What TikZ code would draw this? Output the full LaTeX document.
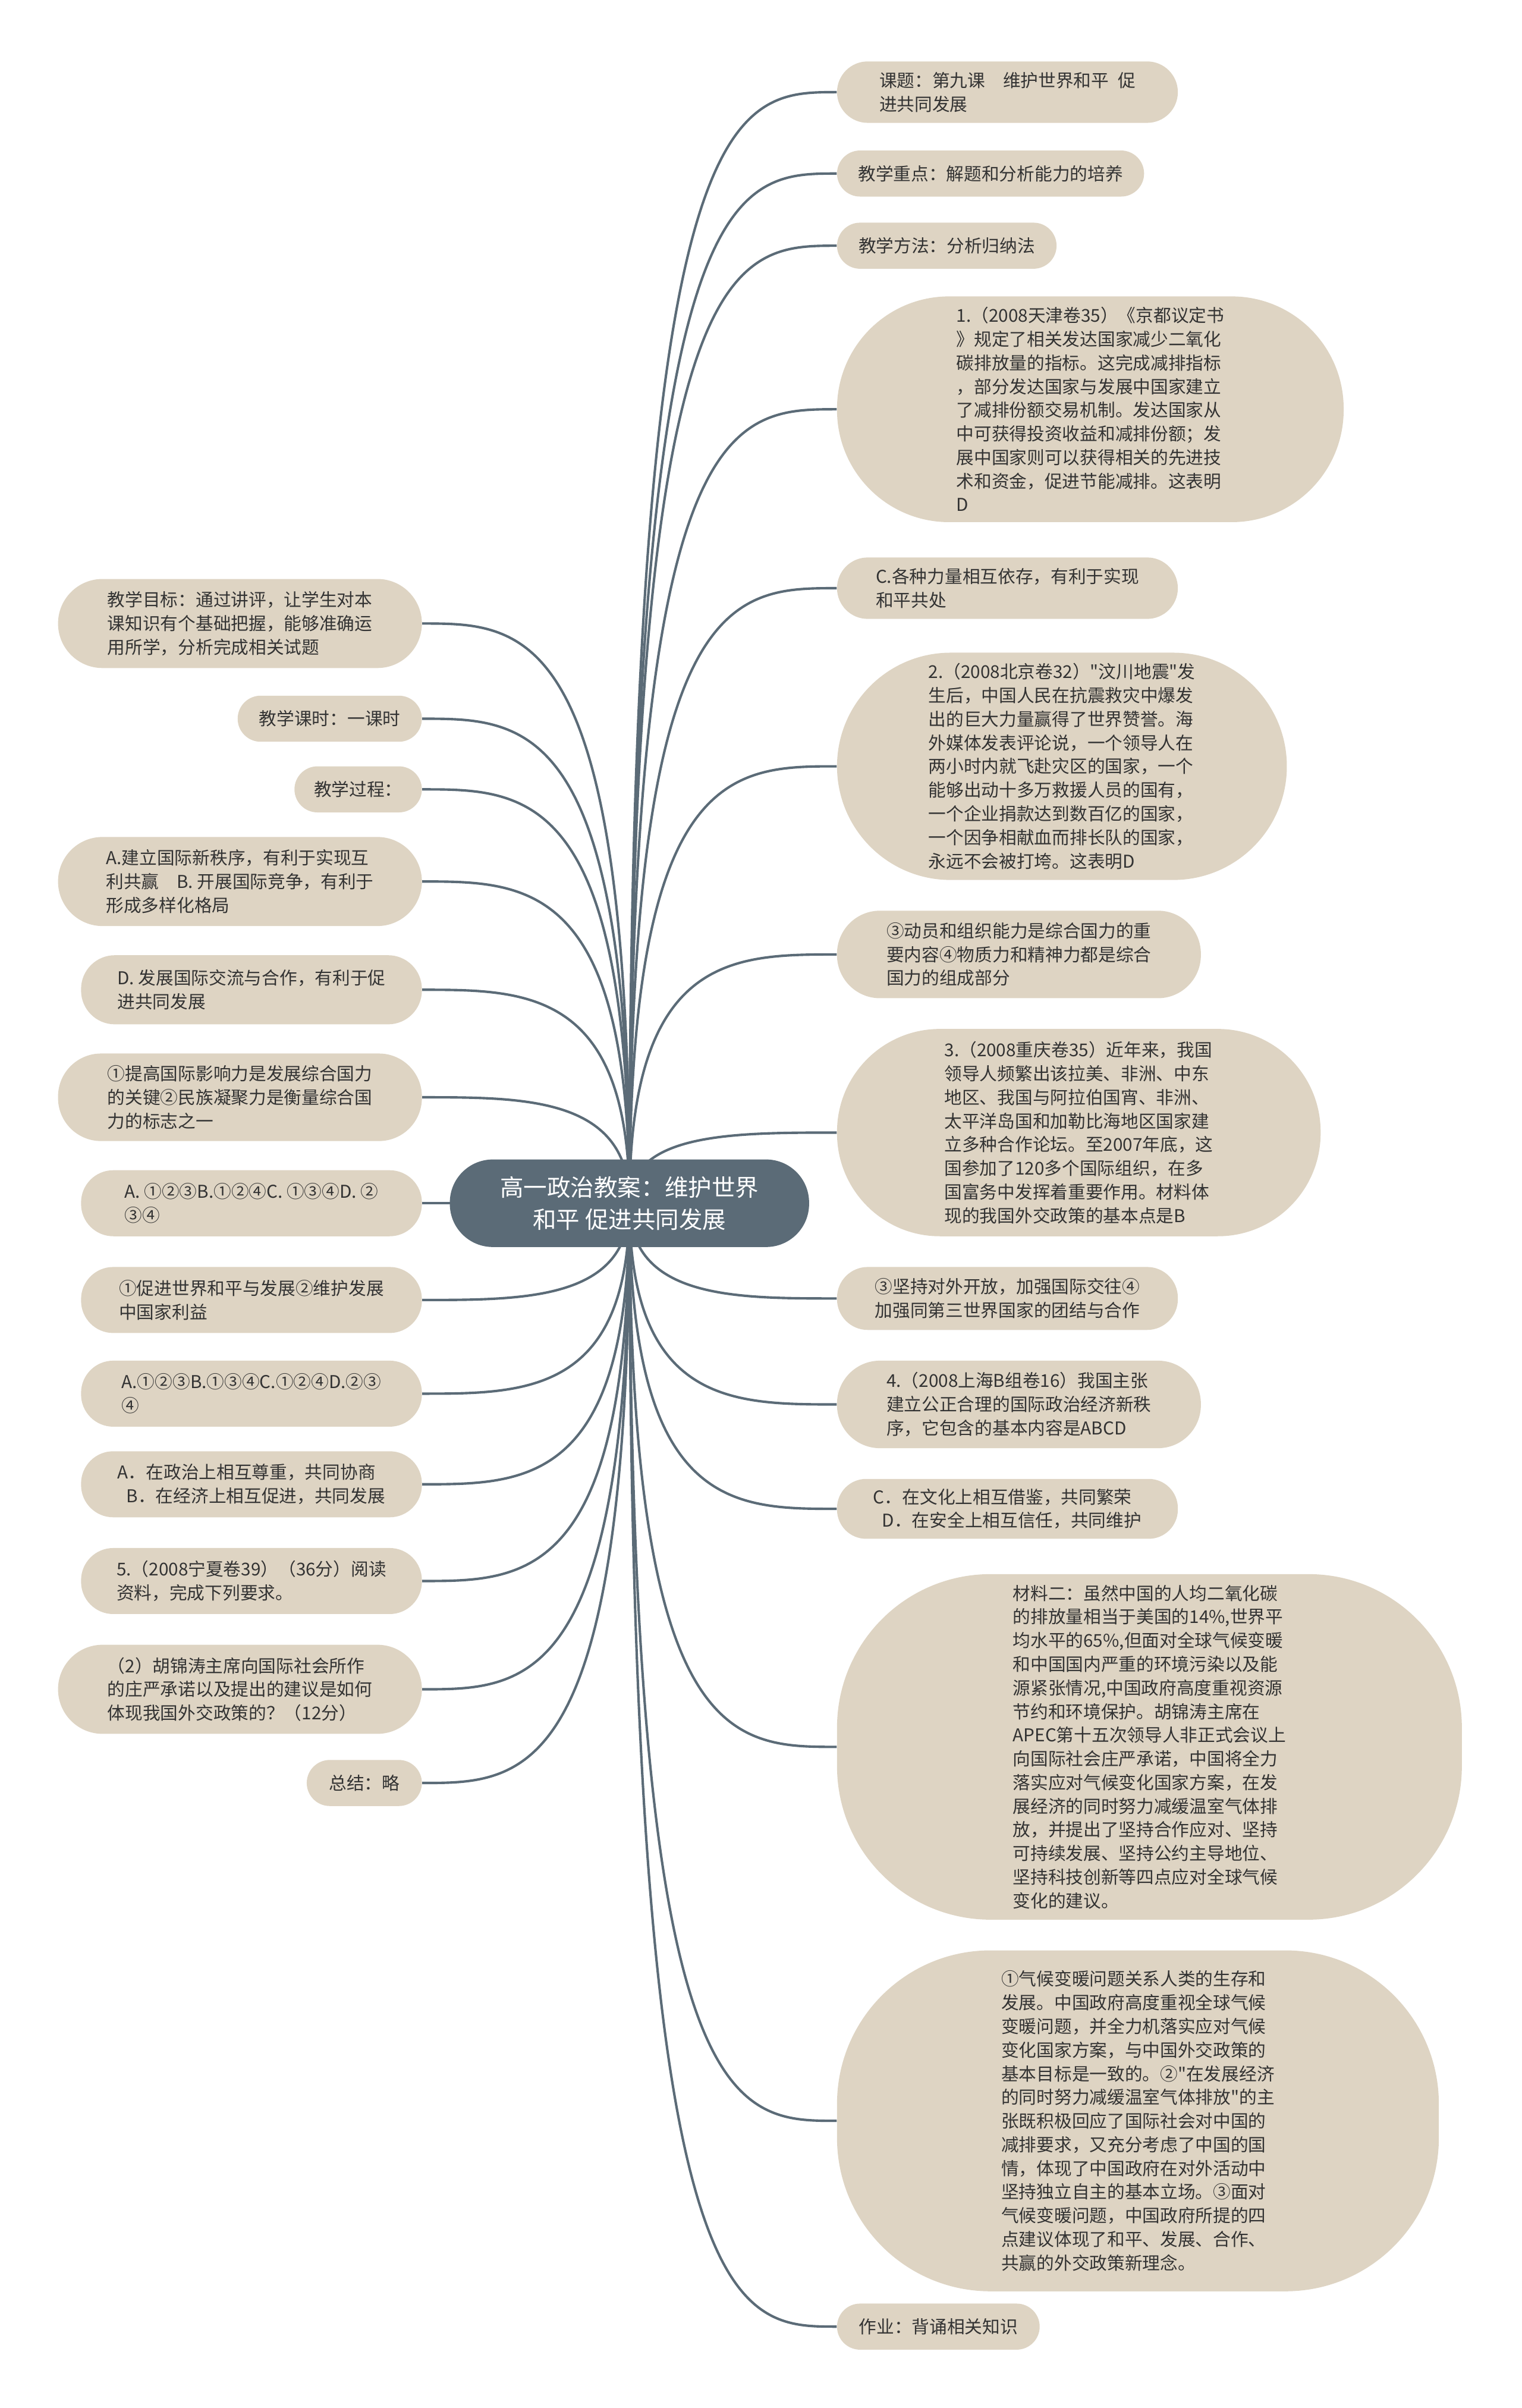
\documentclass[tikz,border=0pt]{standalone}
\usepackage{fontspec}
\newfontfamily\cjk{Noto Sans CJK SC}
\usepackage{xcolor}
\usepackage{tikz}
\usetikzlibrary{calc, backgrounds}

\definecolor{boxfill}{HTML}{DED4C3}
\definecolor{rootfill}{HTML}{5B6B77}
\definecolor{textgray}{HTML}{333333}

\begin{document}
\begin{tikzpicture}[x=1pt, y=-1pt,
    box/.style={fill=boxfill, text=textgray, align=left, inner sep=0pt,
      font=\cjk\fontsize{11.5}{15.4}\selectfont},
    rootbox/.style={fill=rootfill, text=white, align=center, inner sep=0pt,
      font=\cjk\fontsize{15.3}{21}\selectfont},
    link/.style={draw=rootfill, line width=1.6pt,
      to path={.. controls (\tikztostart |- \tikztotarget) and ($(\tikztostart |- \tikztotarget)!0.5!(\tikztotarget)$) .. (\tikztotarget)}}]

  \useasboundingbox (0,0) rectangle (991,1568);

  % centre
  \node[rootbox, minimum width=234pt, minimum height=57pt, rounded corners=28pt] (root) at (410,783.5) {高一政治教案：维护世界\\和平 促进共同发展};

  % right side
  \node[box, minimum width=222pt, minimum height=40pt, rounded corners=20pt, anchor=west] (keti) at (545,60) {课题：第九课\quad 维护世界和平\enspace 促\\进共同发展};
  \node[box, minimum width=200pt, minimum height=30pt, rounded corners=15pt, anchor=west] (zhongdian) at (545,113) {教学重点：解题和分析能力的培养};
  \node[box, minimum width=143pt, minimum height=30pt, rounded corners=15pt, anchor=west] (fangfa) at (545,160) {教学方法：分析归纳法};
  \node[box, minimum width=330pt, minimum height=147pt, rounded corners=73pt, anchor=west] (q1) at (545,266.5) {1.（2008天津卷35）《京都议定书\\》规定了相关发达国家减少二氧化\\碳排放量的指标。这完成减排指标\\，部分发达国家与发展中国家建立\\了减排份额交易机制。发达国家从\\中可获得投资收益和减排份额；发\\展中国家则可以获得相关的先进技\\术和资金，促进节能减排。这表明\\D};
  \node[box, minimum width=222pt, minimum height=40pt, rounded corners=20pt, anchor=west] (optC) at (545,383) {C.各种力量相互依存，有利于实现\\和平共处};
  \node[box, minimum width=293pt, minimum height=148pt, rounded corners=74pt, anchor=west] (q2) at (545,499) {2.（2008北京卷32）"汶川地震"发\\生后，中国人民在抗震救灾中爆发\\出的巨大力量赢得了世界赞誉。海\\外媒体发表评论说，一个领导人在\\两小时内就飞赴灾区的国家，一个\\能够出动十多万救援人员的国有，\\一个企业捐款达到数百亿的国家，\\一个因争相献血而排长队的国家，\\永远不会被打垮。这表明D};
  \node[box, minimum width=237pt, minimum height=57pt, rounded corners=28pt, anchor=west] (ans2) at (545,621.5) {③动员和组织能力是综合国力的重\\要内容④物质力和精神力都是综合\\国力的组成部分};
  \node[box, minimum width=315pt, minimum height=135pt, rounded corners=67pt, anchor=west] (q3) at (545,737.5) {3.（2008重庆卷35）近年来，我国\\领导人频繁出该拉美、非洲、中东\\地区、我国与阿拉伯国宵、非洲、\\太平洋岛国和加勒比海地区国家建\\立多种合作论坛。至2007年底，这\\国参加了120多个国际组织，在多\\国富务中发挥着重要作用。材料体\\现的我国外交政策的基本点是B};
  \node[box, minimum width=222pt, minimum height=41pt, rounded corners=20pt, anchor=west] (ans3) at (545,845.5) {③坚持对外开放，加强国际交往④\\加强同第三世界国家的团结与合作};
  \node[box, minimum width=237pt, minimum height=57pt, rounded corners=28pt, anchor=west] (q4) at (545,914.5) {4.（2008上海B组卷16）我国主张\\建立公正合理的国际政治经济新秩\\序，它包含的基本内容是ABCD};
  \node[box, minimum width=222pt, minimum height=39pt, rounded corners=19pt, anchor=west] (optCD) at (545,982.5) {C．在文化上相互借鉴，共同繁荣\\\enspace D．在安全上相互信任，共同维护};
  \node[box, minimum width=407pt, minimum height=225pt, rounded corners=100pt, anchor=west] (cailiao) at (545,1137.5) {材料二：虽然中国的人均二氧化碳\\的排放量相当于美国的14\%,世界平\\均水平的65\%,但面对全球气候变暖\\和中国国内严重的环境污染以及能\\源紧张情况,中国政府高度重视资源\\节约和环境保护。胡锦涛主席在\\APEC第十五次领导人非正式会议上\\向国际社会庄严承诺，中国将全力\\落实应对气候变化国家方案，在发\\展经济的同时努力减缓温室气体排\\放，并提出了坚持合作应对、坚持\\可持续发展、坚持公约主导地位、\\坚持科技创新等四点应对全球气候\\变化的建议。};
  \node[box, minimum width=392pt, minimum height=222pt, rounded corners=100pt, anchor=west] (jieda) at (545,1381) {①气候变暖问题关系人类的生存和\\发展。中国政府高度重视全球气候\\变暖问题，并全力机落实应对气候\\变化国家方案，与中国外交政策的\\基本目标是一致的。②"在发展经济\\的同时努力减缓温室气体排放"的主\\张既积极回应了国际社会对中国的\\减排要求，又充分考虑了中国的国\\情，体现了中国政府在对外活动中\\坚持独立自主的基本立场。③面对\\气候变暖问题，中国政府所提的四\\点建议体现了和平、发展、合作、\\共赢的外交政策新理念。};
  \node[box, minimum width=132pt, minimum height=30pt, rounded corners=15pt, anchor=west] (zuoye) at (545,1515) {作业：背诵相关知识};

  % left side
  \node[box, minimum width=237pt, minimum height=58pt, rounded corners=29pt, anchor=east] (mubiao) at (275,406) {教学目标：通过讲评，让学生对本\\课知识有个基础把握，能够准确运\\用所学，分析完成相关试题};
  \node[box, minimum width=120pt, minimum height=30pt, rounded corners=15pt, anchor=east] (keshi) at (275,468) {教学课时：一课时};
  \node[box, minimum width=83pt, minimum height=30pt, rounded corners=15pt, anchor=east] (guocheng) at (275,514) {教学过程：};
  \node[box, minimum width=237pt, minimum height=58pt, rounded corners=29pt, anchor=east] (optAB) at (275,574) {A.建立国际新秩序，有利于实现互\\利共赢\quad B. 开展国际竞争，有利于\\形成多样化格局};
  \node[box, minimum width=222pt, minimum height=45pt, rounded corners=22pt, anchor=east] (optD) at (275,644.5) {D. 发展国际交流与合作，有利于促\\进共同发展};
  \node[box, minimum width=237pt, minimum height=57pt, rounded corners=28pt, anchor=east] (ans1) at (275,714.5) {①提高国际影响力是发展综合国力\\的关键②民族凝聚力是衡量综合国\\力的标志之一};
  \node[box, minimum width=222pt, minimum height=43pt, rounded corners=21pt, anchor=east] (choice1) at (275,783.5) {A. ①②③B.①②④C. ①③④D. ②\\③④};
  \node[box, minimum width=222pt, minimum height=43pt, rounded corners=21pt, anchor=east] (cujin) at (275,846.5) {①促进世界和平与发展②维护发展\\中国家利益};
  \node[box, minimum width=222pt, minimum height=43pt, rounded corners=21pt, anchor=east] (choice2) at (275,907.5) {A.①②③B.①③④C.①②④D.②③\\④};
  \node[box, minimum width=222pt, minimum height=43pt, rounded corners=21pt, anchor=east] (optAB2) at (275,966.5) {A．在政治上相互尊重，共同协商\\\enspace B．在经济上相互促进，共同发展};
  \node[box, minimum width=222pt, minimum height=43pt, rounded corners=21pt, anchor=east] (q5) at (275,1029.5) {5.（2008宁夏卷39）（36分）阅读\\资料，完成下列要求。};
  \node[box, minimum width=237pt, minimum height=58pt, rounded corners=29pt, anchor=east] (sub2) at (275,1100) {（2）胡锦涛主席向国际社会所作\\的庄严承诺以及提出的建议是如何\\体现我国外交政策的？（12分）};
  \node[box, minimum width=75pt, minimum height=30pt, rounded corners=15pt, anchor=east] (zongjie) at (275,1161) {总结：略};

  % branches
  \begin{scope}[on background layer]
    \draw[link] (root.center) to (keti.west);
    \draw[link] (root.center) to (zhongdian.west);
    \draw[link] (root.center) to (fangfa.west);
    \draw[link] (root.center) to (q1.west);
    \draw[link] (root.center) to (optC.west);
    \draw[link] (root.center) to (q2.west);
    \draw[link] (root.center) to (ans2.west);
    \draw[link] (root.center) to (q3.west);
    \draw[link] (root.center) to (ans3.west);
    \draw[link] (root.center) to (q4.west);
    \draw[link] (root.center) to (optCD.west);
    \draw[link] (root.center) to (cailiao.west);
    \draw[link] (root.center) to (jieda.west);
    \draw[link] (root.center) to (zuoye.west);
    \draw[link] (root.center) to (mubiao.east);
    \draw[link] (root.center) to (keshi.east);
    \draw[link] (root.center) to (guocheng.east);
    \draw[link] (root.center) to (optAB.east);
    \draw[link] (root.center) to (optD.east);
    \draw[link] (root.center) to (ans1.east);
    \draw[link] (root.center) to (choice1.east);
    \draw[link] (root.center) to (cujin.east);
    \draw[link] (root.center) to (choice2.east);
    \draw[link] (root.center) to (optAB2.east);
    \draw[link] (root.center) to (q5.east);
    \draw[link] (root.center) to (sub2.east);
    \draw[link] (root.center) to (zongjie.east);
  \end{scope}
\end{tikzpicture}
\end{document}
